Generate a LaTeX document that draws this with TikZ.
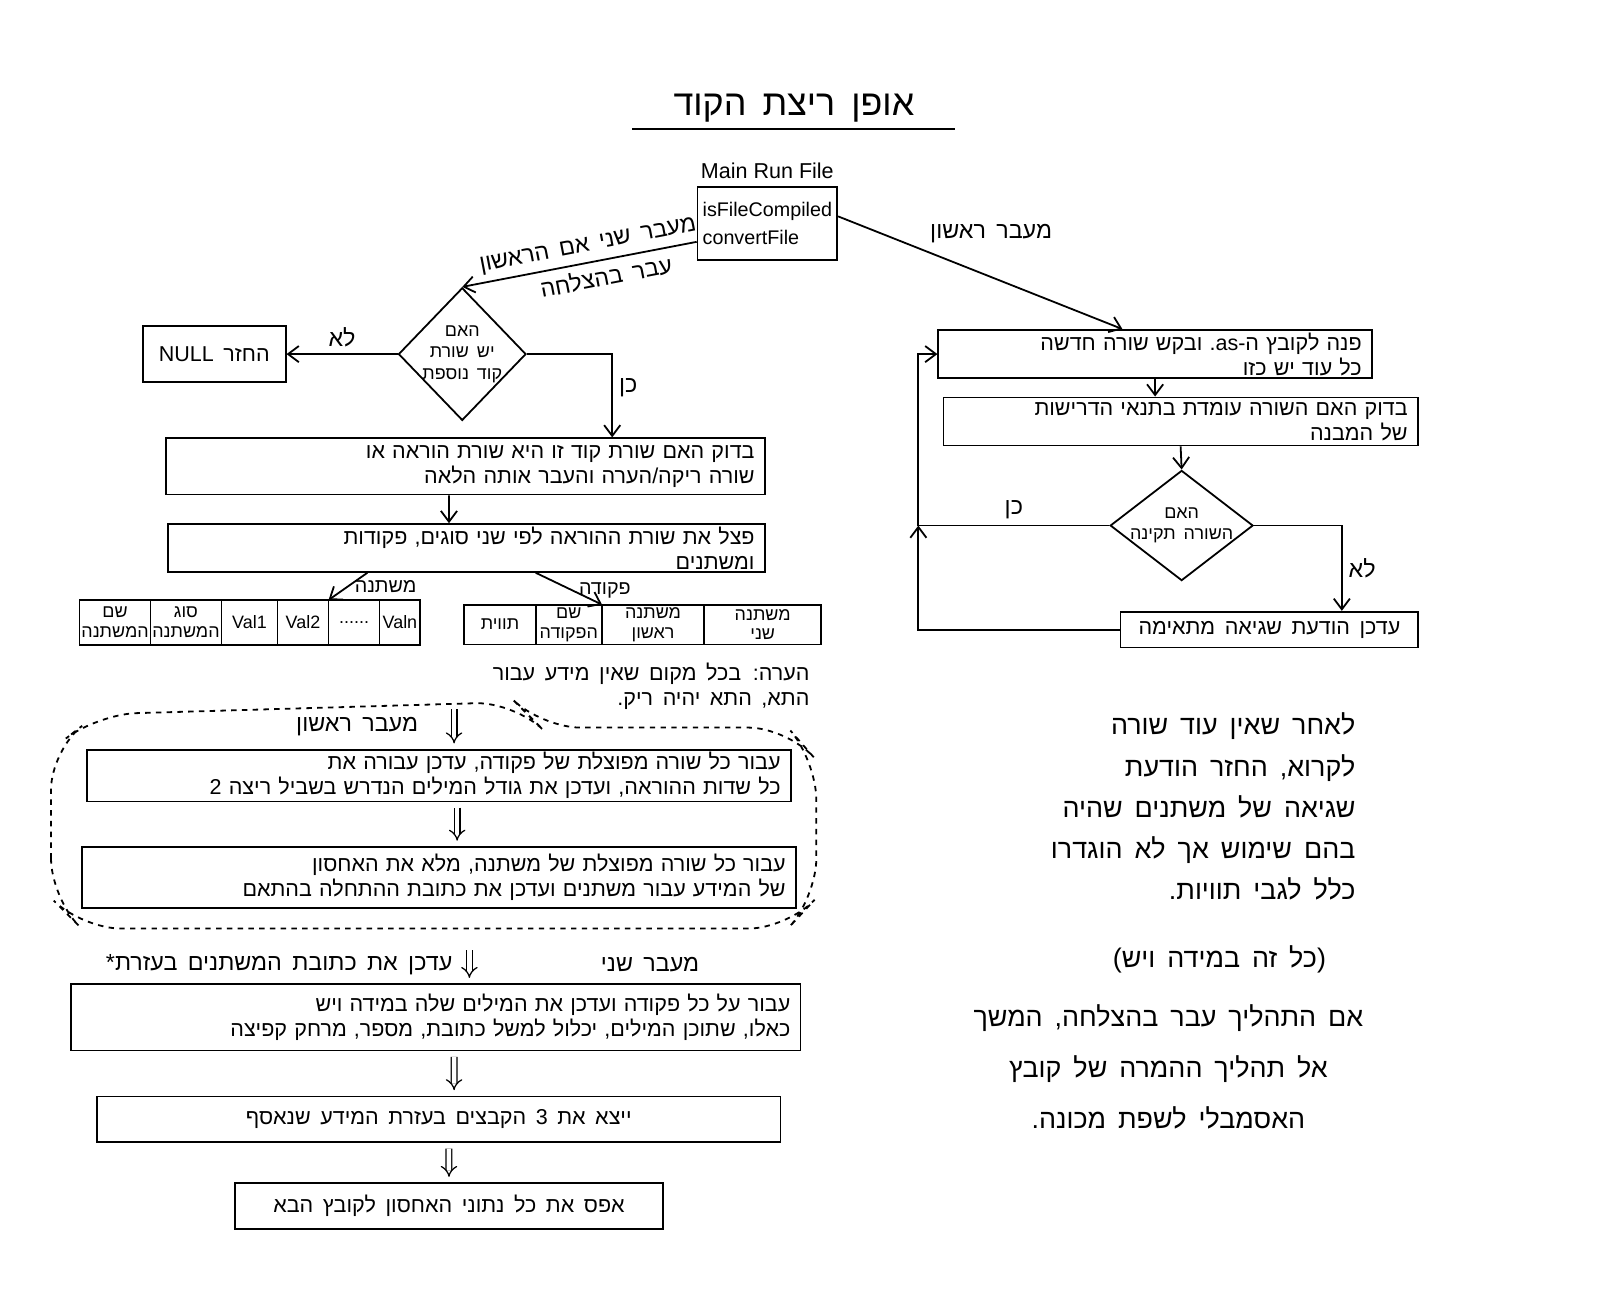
\documentclass[tikz,border=0pt]{standalone}
\usepackage{fontspec}
\setmainfont{Liberation Sans}
\newfontfamily\hebfont[Script=Hebrew,WordSpace=1.6]{Liberation Sans}
\TeXXeTstate=1
\usetikzlibrary{positioning, arrows.meta, shapes.geometric}
\newcommand{\heb}[1]{{\hebfont\beginR #1\endR}}
\newcommand{\lat}[1]{\beginL #1\endL}

\begin{document}
\begin{tikzpicture}
    [
        x=0.02cm, y=-0.02cm, line width=1pt,
        >={Straight Barb[length=6pt, width=9pt]},
        box/.style={draw, inner xsep=2mm, inner ysep=0.5mm, align=right, font=\fontsize{12}{14}\selectfont},
        cell/.style={draw, outer sep=0pt, inner sep=1pt, align=center, font=\fontsize{10}{11}\selectfont},
        decision/.style={diamond, draw, inner sep=0pt},
        decision_text/.style={align=center, font=\fontsize{10}{12}\selectfont},
        dbl/.style={double, double distance=2.5pt, line width=0.7pt, -{Implies}, shorten >=3pt, shorten <=3pt},
        edge_label/.style={font=\fontsize{13}{15}\selectfont},
        free_text/.style={font=\fontsize{15}{23}\selectfont, align=right},
    ]
        \useasboundingbox (0,0) rectangle (1568,1276);
        % title
        \node[font=\fontsize{20}{24}\selectfont, minimum width=6.3cm] (title) at (778,106) {\heb{אופן ריצת הקוד}};
        \draw (title.south west) -- (title.south east);
        % main file
        \node[draw, minimum width=2.7cm, minimum height=1.44cm, align=left, inner sep=1mm, font=\fontsize{11}{16}\selectfont] (mainbox) at (752,219) {isFileCompiled\\convertFile};
        \node[font=\fontsize{12}{14}\selectfont] (mainname) [above=0mm of mainbox] {Main Run File};
        % second pass branch (left)
        \node[decision, minimum width=2.5cm, minimum height=2.6cm] (has_line) at (453,347) {};
        \node[decision_text] (has_line_txt) at (has_line) {\heb{האם}\\\heb{יש~שורת}\\\heb{קוד~נוספת}};
        \node[box, align=center, minimum width=2.8cm, minimum height=1.1cm] (ret_null) at (210,347) {\heb{החזר \lat{NULL}}};
        \node[box, text width=11.34cm, minimum height=1.1cm] (check) at (456,457) {\heb{בדוק האם שורת קוד זו היא שורת הוראה או}\\\heb{שורה ריקה/הערה והעבר אותה הלאה}};
        \node[box, text width=11.3cm, minimum height=0.86cm] (split) at (457,537) {\heb{פצל את שורת ההוראה לפי שני סוגים, פקודות}\\\heb{ומשתנים}};
        % variable table
        \node[cell, minimum width=1.3cm, minimum height=0.88cm, anchor=west] (var_name) at (78,610) {\heb{שם}\\\heb{המשתנה}};
        \node[cell, minimum width=1.24cm, minimum height=0.88cm] (var_type) [right=0pt of var_name] {\heb{סוג}\\\heb{המשתנה}};
        \node[cell, minimum width=1.1cm, minimum height=0.88cm] (val_a) [right=0pt of var_type] {Val1};
        \node[cell, minimum width=1.0cm, minimum height=0.88cm] (val_b) [right=0pt of val_a] {Val2};
        \node[cell, minimum width=1.0cm, minimum height=0.88cm] (val_dots) [right=0pt of val_b] {......};
        \node[cell, minimum width=0.8cm, minimum height=0.88cm] (val_n) [right=0pt of val_dots] {Valn};
        % command table
        \node[cell, minimum width=1.4cm, minimum height=0.78cm, anchor=west] (cmd_label) at (455,612) {\heb{תווית}};
        \node[cell, minimum width=1.3cm, minimum height=0.78cm] (cmd_name) [right=0pt of cmd_label] {\heb{שם}\\\heb{הפקודה}};
        \node[cell, minimum width=2.0cm, minimum height=0.78cm] (cmd_first) [right=0pt of cmd_name] {\heb{משתנה}\\\heb{ראשון}};
        \node[cell, minimum width=2.3cm, minimum height=0.78cm] (cmd_second) [right=0pt of cmd_first] {\heb{משתנה}\\\heb{שני}};
        \node[anchor=north east, align=right, font=\fontsize{12}{14}\selectfont] (empty_note) at (800,643) {\heb{הערה: בכל מקום שאין מידע עבור}\\\heb{התא, התא יהיה ריק.}};
        % first pass group
        \draw[dashed, rounded corners=22pt] (50,880) -- (50,735) -- (95,700) -- (505,688) -- (530,713) -- (772,713) -- (800,745) -- (800,880) -- (772,910) -- (80,910) -- cycle;
        \coordinate (first_in) at (445,690);
        \node[edge_label] (first_lbl) at (350,712) {\heb{מעבר ראשון}};
        \node[box, text width=13.4cm, minimum height=1.0cm] (pass_cmd) at (430,760) {\heb{עבור כל שורה מפוצלת של פקודה, עדכן עבורה את}\\\heb{כל שדות ההוראה, ועדכן את גודל המילים הנדרש בשביל ריצה \lat{2}}};
        \node[box, text width=13.6cm, minimum height=1.2cm] (pass_var) at (430,860) {\heb{עבור כל שורה מפוצלת של משתנה, מלא את האחסון}\\\heb{של המידע עבור משתנים ועדכן את כתובת ההתחלה בהתאם}};
        % second pass
        \coordinate (second_in) at (460,926);
        \node[edge_label, anchor=east] (addr_note) at (450,945) {*\heb{עדכן את כתובת המשתנים בעזרת}};
        \node[edge_label] (second_lbl) at (637,945) {\heb{מעבר שני}};
        \node[box, text width=13.9cm, minimum height=1.3cm] (pass_words) at (427,997) {\heb{עבור על כל פקודה ועדכן את המילים שלה במידה ויש}\\\heb{כאלו, שתוכן המילים, יכלול למשל כתובת, מספר, מרחק קפיצה}};
        \node[box, align=center, minimum width=13.4cm, minimum height=0.9cm] (export) at (430,1097) {\heb{ייצא את \lat{3} הקבצים בעזרת המידע שנאסף}};
        \node[box, align=center, minimum width=8.4cm, minimum height=0.9cm] (reset) at (440,1182) {\heb{אפס את כל נתוני האחסון לקובץ הבא}};
        % first pass branch (right)
        \node[box, text width=8.1cm, minimum height=0.9cm] (read_line) at (1132,347) {\heb{פנה לקובץ ה-\lat{.as} ובקש שורה חדשה}\\\heb{כל עוד יש כזו}};
        \node[box, text width=8.9cm, minimum height=0.94cm] (check_rules) at (1157,413) {\heb{בדוק האם השורה עומדת בתנאי הדרישות}\\\heb{של המבנה}};
        \node[decision, minimum width=2.8cm, minimum height=2.16cm] (line_ok) at (1158,515) {};
        \node[decision_text] (line_ok_txt) at (line_ok) {\heb{האם}\\\heb{השורה~תקינה}};
        \node[box, align=center, minimum width=5.84cm, minimum height=0.7cm] (set_error) at (1244,617) {\heb{עדכן הודעת שגיאה מתאימה}};
        \coordinate (loop_join) at (900,515);
        % free text
        \node[free_text, anchor=north east] (after_text) at (1335,692) {\heb{לאחר שאין עוד שורה}\\\heb{לקרוא, החזר הודעת}\\\heb{שגיאה של משתנים שהיה}\\\heb{בהם שימוש אך לא הוגדרו}\\\heb{כלל לגבי תוויות.}};
        \node[free_text] (if_any) at (1195,940) {\heb{(כל זה במידה ויש)}};
        \node[free_text, align=center, font=\fontsize{15}{28.5}\selectfont, anchor=north] (next_step) at (1145,978) {\heb{אם התהליך עבר בהצלחה, המשך}\\\heb{אל תהליך ההמרה של קובץ}\\\heb{האסמבלי לשפת מכונה.}};
        % connectors
        \draw[->] ([yshift=-0.36cm]mainbox.west) -- (has_line.north)
            node[pos=0.45, above, sloped, edge_label] {\heb{מעבר שני אם הראשון}}
            node[pos=0.4, below, sloped, edge_label] {\heb{עבר בהצלחה}};
        \draw[->] ([yshift=0.14cm]mainbox.east) -- ([xshift=-0.64cm]read_line.north)
            node[pos=0.3, above right, edge_label] {\heb{מעבר ראשון}};
        \draw[->] (has_line.west) -- (ret_null.east) node[midway, above, edge_label] {\heb{לא}};
        \draw[->] (has_line.east) -| ([xshift=2.88cm]check.north) node[pos=0.7, right, edge_label] {\heb{כן}};
        \draw[->] ([xshift=-0.32cm]check.south) -- ([xshift=-0.34cm]split.north);
        \draw[->] ([xshift=-1.94cm]split.south) -- (val_b.north east) node[midway, right, font=\fontsize{11}{13}\selectfont] {\heb{משתנה}};
        \draw[->] ([xshift=1.36cm]split.south) -- (cmd_name.north east) node[pos=0.55, right, font=\fontsize{11}{13}\selectfont] {\heb{פקודה}};
        \draw[dbl] (first_in) -- (first_in |- pass_cmd.north);
        \draw[dbl] ([xshift=0.36cm]pass_cmd.south) -- ([xshift=0.36cm]pass_var.north);
        \draw[dbl] (second_in) -- (second_in |- pass_words.north);
        \draw[dbl] ([xshift=0.36cm]pass_words.south) -- ([xshift=0.3cm]export.north);
        \draw[dbl] ([xshift=0.2cm]export.south) -- (reset.north);
        \draw[->] (read_line.south) -- (read_line.south |- check_rules.north);
        \draw[->] (check_rules.south) -- (line_ok.north);
        \draw[->] (line_ok.east) -| ([xshift=1.42cm]set_error.north) node[pos=0.75, right, edge_label] {\heb{לא}};
        \draw (line_ok.west) -- (loop_join) node[midway, above, edge_label] {\heb{כן}};
        \draw[->] (set_error.west) -| (loop_join);
        \draw[->] (loop_join) |- (read_line.west);
    \end{tikzpicture}
\end{document}
